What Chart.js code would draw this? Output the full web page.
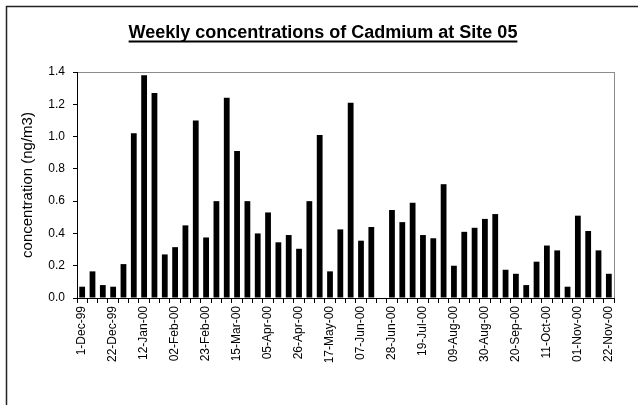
<!DOCTYPE html>
<html>
<head>
<meta charset="utf-8">
<script src="https://cdn.jsdelivr.net/npm/chart.js@4/dist/chart.umd.min.js"></script>
<style>
  html, body { margin: 0; padding: 0; background: #fff; }
  #wrap { width: 638px; height: 405px; }
</style>
</head>
<body>
<div id="wrap"><canvas id="cadmium" width="638" height="405"></canvas></div>
<script>
// weekly sampling dates (every Wednesday), labels shown every 3rd week
const weeks = ['1-Dec-99', '8-Dec-99', '15-Dec-99', '22-Dec-99', '29-Dec-99', '05-Jan-00', '12-Jan-00', '19-Jan-00', '26-Jan-00',
  '02-Feb-00', '09-Feb-00', '16-Feb-00', '23-Feb-00', '01-Mar-00', '08-Mar-00', '15-Mar-00', '22-Mar-00', '29-Mar-00',
  '05-Apr-00', '12-Apr-00', '19-Apr-00', '26-Apr-00', '03-May-00', '10-May-00', '17-May-00', '24-May-00', '31-May-00',
  '07-Jun-00', '14-Jun-00', '21-Jun-00', '28-Jun-00', '05-Jul-00', '12-Jul-00', '19-Jul-00', '26-Jul-00', '02-Aug-00',
  '09-Aug-00', '16-Aug-00', '23-Aug-00', '30-Aug-00', '06-Sep-00', '13-Sep-00', '20-Sep-00', '27-Sep-00', '04-Oct-00',
  '11-Oct-00', '18-Oct-00', '25-Oct-00', '01-Nov-00', '08-Nov-00', '15-Nov-00', '22-Nov-00'];

// ng/m3, 21-Jun-00 has no sample
const cadmium = [0.07, 0.165, 0.08, 0.07, 0.21, 1.02, 1.38, 1.27, 0.27,
  0.315, 0.45, 1.10, 0.375, 0.60, 1.24, 0.91, 0.60, 0.40,
  0.53, 0.345, 0.39, 0.305, 0.60, 1.01, 0.165, 0.425, 1.21,
  0.355, 0.44, null, 0.545, 0.47, 0.59, 0.39, 0.37, 0.705,
  0.20, 0.41, 0.435, 0.49, 0.52, 0.175, 0.15, 0.08, 0.225,
  0.325, 0.295, 0.07, 0.51, 0.415, 0.295, 0.15];

const yTicks = [0, 0.2, 0.4, 0.6, 0.8, 1.0, 1.2, 1.4];
const titleText = 'Weekly concentrations of Cadmium at Site 05';
const FONT = '"Liberation Sans", Arial, sans-serif';

// outer frame, grey plot box, and the underlined title
const frame = {
  id: 'frame',
  beforeDraw(chart) {
    const ctx = chart.ctx, a = chart.chartArea;
    ctx.save();
    ctx.fillStyle = '#fff';
    ctx.fillRect(0, 0, chart.width, chart.height);
    ctx.strokeStyle = '#222';
    ctx.lineWidth = 1.5;
    ctx.strokeRect(6.5, 6.5, 700, 500);
    ctx.strokeStyle = '#8c8c8c';
    ctx.lineWidth = 1;
    ctx.strokeRect(a.left + 0.5, a.top + 0.5, a.right - a.left, a.bottom - a.top);
    ctx.restore();
  },
  afterDraw(chart) {
    const ctx = chart.ctx;
    ctx.save();
    ctx.font = 'bold 18px ' + FONT;
    ctx.fillStyle = '#000';
    ctx.textAlign = 'center';
    ctx.textBaseline = 'alphabetic';
    ctx.fillText(titleText, 323, 37.5);
    const w = ctx.measureText(titleText).width;
    ctx.fillRect(323 - w / 2, 40.5, w, 2);
    ctx.restore();
  }
};

new Chart(document.getElementById('cadmium'), {
  type: 'bar',
  data: {
    labels: weeks,
    datasets: [{
      label: 'Cadmium',
      data: cadmium,
      backgroundColor: '#000',
      categoryPercentage: 1,
      barPercentage: 0.56
    }]
  },
  options: {
    responsive: false,
    animation: false,
    layout: { padding: { top: 72, left: 19, right: 24, bottom: 0 } },
    plugins: {
      legend: { display: false },
      title: { display: false },
      tooltip: { enabled: false }
    },
    scales: {
      x: {
        afterFit(s) { s.height = 107; },
        grid: { offset: true, drawOnChartArea: false, drawTicks: true, tickLength: 5, tickColor: '#000' },
        border: { display: true, color: '#000', width: 1 },
        ticks: {
          autoSkip: false,
          maxRotation: 90,
          minRotation: 90,
          padding: 3,
          color: '#000',
          font: { family: FONT, size: 12 },
          callback(v, i) { return i % 3 === 0 ? weeks[i] : ''; }
        }
      },
      y: {
        min: 0,
        max: 1.4,
        afterFit(s) { s.width = 58; },
        afterBuildTicks(s) { s.ticks = yTicks.map(v => ({ value: v })); },
        grid: { drawOnChartArea: false, drawTicks: true, tickLength: 4, tickColor: '#000' },
        border: { display: true, color: '#000', width: 1 },
        ticks: {
          padding: 8,
          color: '#000',
          font: { family: FONT, size: 12 },
          callback(v) { return v.toFixed(1); }
        },
        title: {
          display: true,
          text: 'concentration (ng/m3)',
          color: '#000',
          font: { family: FONT, size: 15 },
          padding: { top: 0, bottom: 0 }
        }
      }
    }
  },
  plugins: [frame]
});
</script>
</body>
</html>
